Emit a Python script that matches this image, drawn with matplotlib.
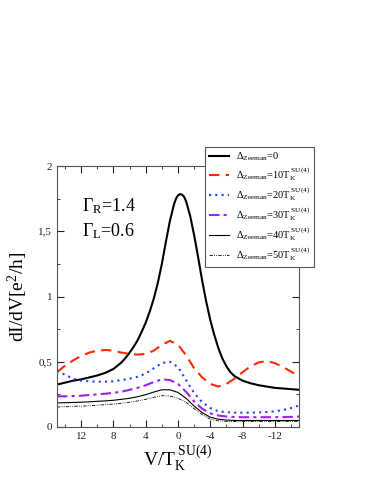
import matplotlib
matplotlib.use("Agg")
import matplotlib.pyplot as plt
from matplotlib.ticker import MultipleLocator, FixedLocator, FixedFormatter

plt.rcParams['font.family'] = ['Liberation Serif', 'DejaVu Serif']
plt.rcParams['mathtext.fontset'] = 'custom'
plt.rcParams['mathtext.rm'] = 'Liberation Serif'
plt.rcParams['mathtext.it'] = 'Liberation Serif:italic'

# datos
v_0 = [15, 14, 13, 12, 11, 10, 9, 8, 7, 6.5, 6, 5.5, 5, 4.5, 4, 3.5, 3, 2.5, 2,
       1.5, 1, 0.5, 0.25, 0, -0.25, -0.5, -0.75, -1, -1.5, -2, -2.5, -3, -3.5,
       -4, -4.5, -5, -5.5, -6, -6.5, -7, -8, -9, -10, -11, -12, -13, -14, -15]
g_0 = [0.325, 0.34, 0.355, 0.365, 0.38, 0.395, 0.415, 0.445, 0.495, 0.53, 0.57,
       0.615, 0.665, 0.73, 0.80, 0.885, 0.985, 1.105, 1.25, 1.42, 1.58, 1.705,
       1.75, 1.775, 1.785, 1.78, 1.765, 1.73, 1.62, 1.47, 1.30, 1.12, 0.96, 0.82,
       0.705, 0.605, 0.525, 0.465, 0.42, 0.39, 0.355, 0.335, 0.32, 0.31, 0.30,
       0.295, 0.29, 0.285]

v = [15, 14, 13, 12, 11, 10, 9, 8, 7, 6, 5, 4, 3, 2, 1, 0, -1, -2, -3, -4, -5,
     -6, -7, -8, -9, -10, -11, -12, -13, -14, -15]
g_10 = [0.42, 0.47, 0.51, 0.545, 0.57, 0.585, 0.59, 0.585, 0.57, 0.56, 0.555,
        0.56, 0.585, 0.63, 0.66, 0.63, 0.55, 0.45, 0.38, 0.33, 0.31, 0.33, 0.37,
        0.42, 0.465, 0.495, 0.505, 0.49, 0.46, 0.425, 0.39]
g_20 = [0.43, 0.40, 0.37, 0.355, 0.35, 0.348, 0.348, 0.35, 0.36, 0.37, 0.385,
        0.41, 0.45, 0.49, 0.50, 0.46, 0.36, 0.26, 0.19, 0.145, 0.12, 0.113, 0.11,
        0.11, 0.11, 0.112, 0.115, 0.12, 0.13, 0.145, 0.165]
g_30 = [0.235, 0.235, 0.237, 0.24, 0.245, 0.25, 0.255, 0.262, 0.27, 0.285, 0.30,
        0.32, 0.345, 0.365, 0.36, 0.33, 0.27, 0.195, 0.14, 0.105, 0.088, 0.08,
        0.077, 0.075, 0.075, 0.075, 0.075, 0.075, 0.076, 0.078, 0.08]
g_40 = [0.185, 0.186, 0.188, 0.19, 0.193, 0.197, 0.20, 0.205, 0.212, 0.22, 0.232,
        0.248, 0.268, 0.285, 0.285, 0.265, 0.22, 0.16, 0.11, 0.075, 0.06, 0.053,
        0.05, 0.05, 0.05, 0.05, 0.05, 0.05, 0.05, 0.05, 0.05]
g_50 = [0.153, 0.155, 0.158, 0.16, 0.163, 0.167, 0.171, 0.176, 0.182, 0.19, 0.20,
        0.212, 0.228, 0.24, 0.237, 0.22, 0.19, 0.14, 0.095, 0.06, 0.048, 0.043,
        0.042, 0.042, 0.042, 0.042, 0.042, 0.042, 0.042, 0.042, 0.042]

etiquetas = [r'$\Delta_{\rm Zeeman}$=0',
             r'$\Delta_{\rm Zeeman}$=10T$_{\rm K}^{\rm\ SU(4)}$',
             r'$\Delta_{\rm Zeeman}$=20T$_{\rm K}^{\rm\ SU(4)}$',
             r'$\Delta_{\rm Zeeman}$=30T$_{\rm K}^{\rm\ SU(4)}$',
             r'$\Delta_{\rm Zeeman}$=40T$_{\rm K}^{\rm\ SU(4)}$',
             r'$\Delta_{\rm Zeeman}$=50T$_{\rm K}^{\rm\ SU(4)}$']

fig = plt.figure(figsize=(3.74, 4.84), dpi=100)
ax = fig.add_axes([57/374, 1-427/484, 242/374, 261/484])

ax.plot(v_0, g_0, color="black", lw=1.5, label=etiquetas[0])
ax.plot(v, g_10, color="#ff2a00", lw=1.5, dashes=(5, 3), label=etiquetas[1])
ax.plot(v, g_20, color="#2040ff", lw=1.5, linestyle=(0, (1, 2)), label=etiquetas[2])
ax.plot(v, g_30, color="#a020f0", lw=1.5, dashes=(5, 2, 1.5, 2), label=etiquetas[3])
ax.plot(v, g_40, color="black", lw=0.8, label=etiquetas[4])
ax.plot(v, g_50, color="black", lw=0.6, dashes=(4, 1.5, 1, 1.5, 1, 1.5), label=etiquetas[5])

ax.set_xlim(15, -15)
ax.set_ylim(0, 2)
ax.xaxis.set_major_locator(FixedLocator([12, 8, 4, 0, -4, -8, -12]))
ax.xaxis.set_major_formatter(FixedFormatter(["12", "8", "4", "0", "-4", "-8", "-12"]))
ax.xaxis.set_minor_locator(MultipleLocator(2))
ax.yaxis.set_major_locator(FixedLocator([0, 0.5, 1, 1.5, 2]))
ax.yaxis.set_major_formatter(FixedFormatter(["0", "0,5", "1", "1,5", "2"]))
ax.yaxis.set_minor_locator(MultipleLocator(0.25))
ax.tick_params(which="both", direction="in", top=True, right=True, labelsize=8, colors="#222222")
ax.tick_params(which="major", length=5)
ax.tick_params(which="minor", length=2.5)
for s in ax.spines.values():
    s.set_color("#555555")

ax.set_xlabel(r"V/T$_{\rm K}^{\rm\ SU(4)}$", fontsize=14, labelpad=2)
ax.set_ylabel(r"dI/dV[e$^2$/h]", fontsize=14, labelpad=6)

ax.text(11.9, 1.69, r"$\Gamma_{\rm R}$=1.4", fontsize=13, va="center")
ax.text(11.9, 1.50, r"$\Gamma_{\rm L}$=0.6", fontsize=13, va="center")

leg = fig.legend(loc="upper left", bbox_to_anchor=(205/374, 1-147/484), fontsize=7.5,
                 fancybox=False, framealpha=1, edgecolor="#555555", handlelength=2,
                 borderpad=0.35, labelspacing=0.2, handletextpad=0.6, borderaxespad=0)
leg.get_frame().set_linewidth(0.8)

plt.savefig("out.png", dpi=100)
